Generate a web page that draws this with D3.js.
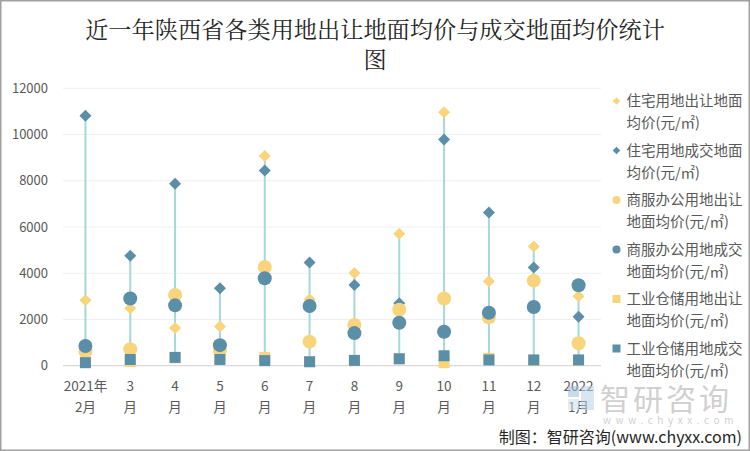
<!DOCTYPE html>
<html><head><meta charset="utf-8">
<script src="https://cdn.jsdelivr.net/npm/d3@7"></script>
<style>body{margin:0;background:#fff;} svg{display:block;}</style>
</head><body>
<svg id="chart" width="750" height="451"></svg>
<script>
const catLine1 = ["2021年","3","4","5","6","7","8","9","10","11","12","2022"];
const catLine2 = ["2月","月","月","月","月","月","月","月","月","月","月","1月"];
const resSell = [2830, 2480, 1630, 1700, 9070, 2870, 4010, 5710, 10960, 3650, 5160, 3000];
const resDeal = [10810, 4760, 7870, 3350, 8440, 4460, 3490, 2700, 9780, 6630, 4250, 2120];
const comSell = [610, 710, 3060, 650, 4270, 1040, 1760, 2420, 2910, 2090, 3680, 970];
const comDeal = [850, 2910, 2610, 890, 3780, 2580, 1410, 1860, 1470, 2290, 2540, 3480];
const indSell = [150, 180, 340, 300, 360, 180, 220, 300, 130, 320, 230, 230];
const indDeal = [130, 270, 360, 270, 220, 170, 230, 300, 430, 250, 250, 250];
const yTicks = [0, 2000, 4000, 6000, 8000, 10000, 12000];
const legendLines = [["住宅用地出让地面","均价(元/㎡)"],["住宅用地成交地面","均价(元/㎡)"],["商服办公用地出让","地面均价(元/㎡)"],["商服办公用地成交","地面均价(元/㎡)"],["工业仓储用地出让","地面均价(元/㎡)"],["工业仓储用地成交","地面均价(元/㎡)"]];

const YEL = "#F8D57C", BLU = "#5A8FA7", STEM = "#A3D9D7";
const series = [
  {vals: resSell, color: YEL, shape: "diamond"},
  {vals: resDeal, color: BLU, shape: "diamond"},
  {vals: comSell, color: YEL, shape: "circle"},
  {vals: comDeal, color: BLU, shape: "circle"},
  {vals: indSell, color: YEL, shape: "square"},
  {vals: indDeal, color: BLU, shape: "square"}
];
const FONT = "'Noto Sans CJK SC','Noto Sans',sans-serif";
const svg = d3.select("#chart");
svg.append("rect").attr("x",0.75).attr("y",0.75).attr("width",748.5).attr("height",449.5)
  .attr("fill","#fff").attr("stroke","#a0a0a0").attr("stroke-width",1.5);

const x = d3.scaleBand().domain(d3.range(catLine1.length)).range([63, 601]);
const y = d3.scaleLinear().domain([0, 12000]).range([365.7, 88.3]);

// gridlines
svg.append("g").selectAll("line").data(yTicks.filter(t=>t>0)).join("line")
  .attr("x1",63).attr("x2",601).attr("y1",d=>y(d)).attr("y2",d=>y(d))
  .attr("stroke","#efefef").attr("stroke-width",1);

// y axis labels
const yAxis = d3.axisLeft(y).tickValues(yTicks).tickSize(0).tickPadding(0).tickFormat(d3.format("d"));
const gy = svg.append("g").attr("transform","translate(48,0)").call(yAxis);
gy.select(".domain").remove();
gy.selectAll("text").attr("font-family",FONT).attr("font-size",13).attr("fill","#595959");

// x axis line
svg.append("line").attr("x1",63).attr("x2",601).attr("y1",y(0)).attr("y2",y(0))
  .attr("stroke","#d9d9d9").attr("stroke-width",1.2);

// x labels
const xl = svg.append("g");
catLine1.forEach((c,i)=>{
  const t = xl.append("text").attr("x", x(i)+x.bandwidth()/2).attr("text-anchor","middle")
    .attr("font-family",FONT).attr("font-size",13.5).attr("fill","#595959");
  t.append("tspan").attr("x", x(i)+x.bandwidth()/2).attr("y",391).text(c);
  t.append("tspan").attr("x", x(i)+x.bandwidth()/2).attr("y",412).text(catLine2[i]);
});

// stems (high-low lines)
const cx = i => x(i)+x.bandwidth()/2;
svg.append("g").selectAll("line").data(d3.range(catLine1.length)).join("line")
  .attr("x1",cx).attr("x2",cx)
  .attr("y1",i=>y(d3.max(series,s=>s.vals[i])))
  .attr("y2",i=>y(d3.min(series,s=>s.vals[i])))
  .attr("stroke",STEM).attr("stroke-width",2);

function shapePath(shape, r){
  if(shape==="diamond") return `M0,${-r}L${r},0L0,${r}L${-r},0Z`;
  if(shape==="square") return `M${-r},${-r}H${r}V${r}H${-r}Z`;
  return d3.arc()({innerRadius:0,outerRadius:r,startAngle:0,endAngle:2*Math.PI});
}
const sizes = {diamond:6, circle:7, square:5.5};
series.forEach(s=>{
  svg.append("g").selectAll("path").data(s.vals).join("path")
    .attr("transform",(d,i)=>`translate(${cx(i)},${y(d)})`)
    .attr("d",shapePath(s.shape,sizes[s.shape]))
    .attr("fill",s.color);
});

// legend
const lg = svg.append("g");
const lsizes = {diamond:3.8, circle:4, square:4};
legendLines.forEach((lines,k)=>{
  const yy = 101 + k*49.5;
  lg.append("path").attr("transform",`translate(616.5,${yy})`)
    .attr("d",shapePath(series[k].shape,lsizes[series[k].shape])).attr("fill",series[k].color);
  lines.forEach((ln,j)=>{
    lg.append("text").attr("x",626.5).attr("y",yy+5+j*22).attr("font-family",FONT)
      .attr("font-size",14.5).attr("fill","#595959").text(ln);
  });
});

// title
const title = svg.append("text").attr("text-anchor","middle").attr("font-family","'Noto Serif CJK SC','Noto Sans CJK SC',serif")
  .attr("font-size",23.2).attr("fill","#262626");
title.append("tspan").attr("x",375).attr("y",38).text("近一年陕西省各类用地出让地面均价与成交地面均价统计");
title.append("tspan").attr("x",375).attr("y",68).text("图");

// watermark
const wm = svg.append("g").attr("opacity",0.55);
wm.append("rect").attr("x",568).attr("y",386).attr("width",11).attr("height",11).attr("fill","#9bbfdc");
wm.append("rect").attr("x",581).attr("y",386).attr("width",13).attr("height",24).attr("fill","#b9d2e6");
wm.append("rect").attr("x",568).attr("y",399).attr("width",11).attr("height",11).attr("fill","#d0dfec");
wm.append("text").attr("x",600).attr("y",410).attr("font-family",FONT).attr("font-size",30)
  .attr("fill","#aaaaaa").attr("letter-spacing",3).text("智研咨询");
wm.append("text").attr("x",603).attr("y",424).attr("font-family",FONT).attr("font-size",10)
  .attr("fill","#aaaaaa").attr("letter-spacing",4.6).text("www.chyxx.com");

// footer
svg.append("text").attr("x",742).attr("y",443).attr("text-anchor","end").attr("font-family",FONT)
  .attr("font-size",16).attr("fill","#262626").text("制图：智研咨询(www.chyxx.com)");
</script>
</body></html>
